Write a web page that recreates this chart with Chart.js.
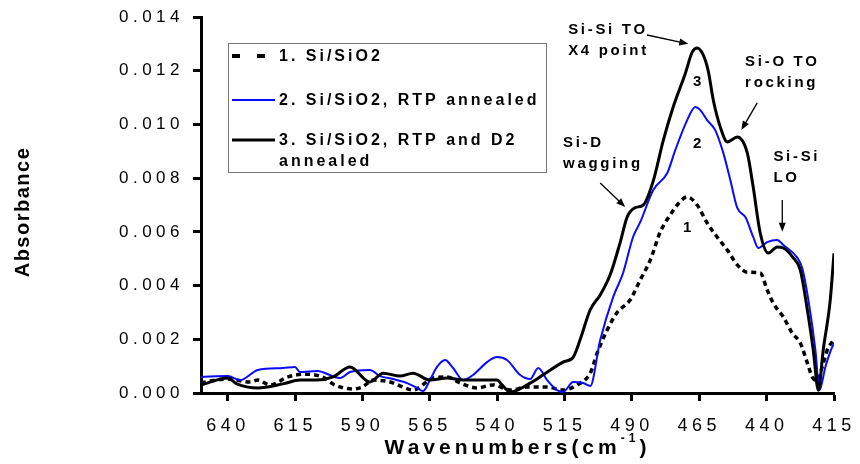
<!DOCTYPE html>
<html>
<head>
<meta charset="utf-8">
<script src="https://cdn.jsdelivr.net/npm/chart.js@4.4.1/dist/chart.umd.min.js"></script>
<style>
  html, body { margin: 0; padding: 0; background: #fff; }
  #wrap { width: 860px; height: 464px; }
</style>
</head>
<body>
<div id="wrap"><canvas id="chart" width="860" height="464"></canvas></div>
<script>
"use strict";

// ===== Data =====
const xTickValues = [640, 615, 590, 565, 540, 515, 490, 465, 440, 415];
const yTickValues = [0, 0.002, 0.004, 0.006, 0.008, 0.010, 0.012, 0.014];

const seriesLabels = [
    ['1. Si/SiO2'],
    ['2. Si/SiO2, RTP annealed'],
    ['3. Si/SiO2, RTP and D2', 'annealed']
];

// 1. Si/SiO2 (dashed)
const s1Wave = [650, 644.8, 640, 631.8, 628.9, 624.4, 617.7, 611.4, 605.1, 600.3, 593.9, 590.2, 586.1,
    579.8, 575.0, 571.3, 563.8, 558.6, 553.8, 547.5, 541.6, 535.2, 528.9, 521.5, 515.6, 510.4, 505.5,
    502.9, 499.2, 495.5, 490.7, 487.0, 483.2, 479.5, 475.8, 473.2, 469.5, 465.8, 462.1, 458.4, 454.6,
    450.9, 447.2, 442.4, 439.8, 437.6, 433.8, 430.5, 427.5, 424.9, 423.1, 421.2, 419.4, 417.5, 415];
const s1Abs = [0.00037, 0.00048, 0.00052, 0.00041, 0.00048, 0.0003, 0.0006, 0.0007, 0.0006, 0.0003, 0.00015,
    0.00022, 0.00048, 0.00041, 0.00022, 0.00011, 0.00056, 0.0006, 0.00037, 0.00019, 0.0003, 0.00011, 0.00022,
    0.00022, 0.00011, 0.0003, 0.00074, 0.00149, 0.00235, 0.0030, 0.00346, 0.0042, 0.00495, 0.0060, 0.00663,
    0.0070, 0.0073, 0.0070, 0.00633, 0.00581, 0.00532, 0.00477, 0.0045, 0.00447, 0.00384, 0.00335, 0.00283,
    0.00223, 0.00186, 0.00112, 0.0006, 0.00045, 0.00097, 0.0016, 0.0020];

// 2. Si/SiO2, RTP annealed (blue)
const s2Wave = [650, 640, 635.5, 628.9, 619.6, 615.1, 613.3, 606.9, 598.4, 594.7, 587.3, 583.5, 578.7,
    573.5, 569.8, 567.6, 565.0, 562.4, 559.4, 556.4, 552.7, 549.0, 543.8, 540.1, 536.4, 531.5, 527.8,
    524.8, 521.5, 517.8, 515.6, 511.8, 508.1, 505.5, 501.8, 497.0, 493.3, 489.6, 486.9, 482.1, 476.9,
    473.9, 469.5, 466.5, 464.7, 462.1, 459.1, 456.1, 453.5, 450.9, 447.9, 445.0, 443.1, 439.8, 436.1,
    433.8, 428.6, 426.8, 424.5, 421.9, 420.4, 418.2, 416.4, 415];
const s2Abs = [0.0006, 0.00063, 0.00048, 0.00086, 0.00093, 0.00097, 0.00078, 0.00082, 0.00056, 0.00078,
    0.00086, 0.00063, 0.00052, 0.00037, 0.00019, 0.00007, 0.00048, 0.00097, 0.00123, 0.00093, 0.00048,
    0.00067, 0.00115, 0.00134, 0.00123, 0.00067, 0.00052, 0.00093, 0.00048, 0.00011, 0.00004, 0.00041,
    0.00037, 0.00026, 0.00197, 0.00357, 0.00447, 0.00581, 0.00637, 0.00756, 0.00819, 0.00905, 0.01016,
    0.01065, 0.01054, 0.01016, 0.00979, 0.00894, 0.00793, 0.00689, 0.00655, 0.00581, 0.0054, 0.00562,
    0.0057, 0.00551, 0.00503, 0.00465, 0.00346, 0.0016, 0.0001, 0.00097, 0.00153, 0.00186];

// 3. Si/SiO2, RTP and D2 annealed (black)
const s3Wave = [650, 640, 636.7, 628.9, 619.6, 613.3, 606.9, 601.0, 594.7, 587.3, 582.4, 576.1, 571.3,
    565.0, 558.6, 552.7, 540.1, 538.2, 535.2, 527.8, 524.1, 515.6, 511.8, 509.2, 505.5, 501.8, 498.1,
    494.4, 491.8, 488.8, 485.8, 482.1, 478.4, 474.7, 470.2, 467.6, 465.8, 463.6, 461.7, 459.8, 457.2,
    454.6, 450.9, 447.2, 445.0, 442.4, 439.4, 436.1, 433.8, 430.1, 427.5, 424.9, 422.7, 420.8, 419.0,
    416.4, 415];
const s3Abs = [0.0003, 0.00056, 0.00034, 0.00019, 0.00034, 0.00048, 0.00048, 0.0006, 0.00097, 0.00041,
    0.00074, 0.00063, 0.00074, 0.00048, 0.00056, 0.00048, 0.00048, 0.0003, 0.00004, 0.00037, 0.0006,
    0.00115, 0.00134, 0.0020, 0.0031, 0.00365, 0.0044, 0.0056, 0.00655, 0.0069, 0.0070, 0.0079, 0.0094,
    0.01065, 0.0119, 0.0127, 0.01285, 0.0126, 0.0120, 0.0109, 0.0099, 0.00935, 0.00953, 0.00894, 0.00767,
    0.00596, 0.00521, 0.00544, 0.0054, 0.00503, 0.00458, 0.0031, 0.0016, 0.0001, 0.0016, 0.00346, 0.0052];

// annotations, in data coordinates (wavenumber, absorbance)
const noteTexts = [
    { lines: ['Si-Si TO', 'X4 point'], at: [513.7, 0.01352] },
    { lines: ['Si-O TO', 'rocking'], at: [448.0, 0.01232] },
    { lines: ['Si-D', 'wagging'], at: [515.6, 0.00931] },
    { lines: ['Si-Si', 'LO'], at: [437.5, 0.00879] }
];
const noteArrows = [
    [[484.4, 0.01333], [469.1, 0.0130]],
    [[443.5, 0.0108], [449.4, 0.00979]],
    [[501.8, 0.00782], [492.5, 0.00693]],
    [[434.2, 0.00719], [434.2, 0.0060]]
];
const curveNumbers = [
    { text: '3', at: [465.8, 0.01158] },
    { text: '2', at: [465.8, 0.00927] },
    { text: '1', at: [469.5, 0.00614] }
];

// ===== Helpers =====
const FAMILY = "'Liberation Sans', Arial, sans-serif";
const toPoints = (xs, ys) => xs.map((x, i) => ({ x, y: ys[i] }));

// ===== Plugins =====
const spacingPlugin = {
    id: 'spacing',
    beforeDraw(chart) { chart.ctx.letterSpacing = '4.5px'; },
    afterDraw(chart) { chart.ctx.letterSpacing = '0px'; }
};

const legendBoxPlugin = {
    id: 'legendBox',
    afterDatasetsDraw(chart) {
        const { ctx, chartArea } = chart;
        const bx = chartArea.left + 27, by = chartArea.top + 26;
        ctx.save();
        ctx.letterSpacing = '3px';
        ctx.fillStyle = '#fff';
        ctx.fillRect(bx, by, 318, 129);
        ctx.strokeStyle = '#777';
        ctx.lineWidth = 1;
        ctx.strokeRect(bx + 0.5, by + 0.5, 318, 129);
        const rows = [by + 13, by + 57, by + 97];
        chart.data.datasets.forEach((ds, i) => {
            const y = rows[i];
            ctx.beginPath();
            ctx.strokeStyle = ds.borderColor;
            if (ds.borderDash && ds.borderDash.length) {
                ctx.lineWidth = 4;
                ctx.setLineDash([8, 17]);
                ctx.moveTo(bx + 4, y);
                ctx.lineTo(bx + 38, y);
            } else {
                ctx.lineWidth = ds.borderWidth;
                ctx.setLineDash([]);
                ctx.moveTo(bx + 4, y);
                ctx.lineTo(bx + 47, y);
            }
            ctx.stroke();
            ctx.setLineDash([]);
            ctx.fillStyle = '#000';
            ctx.font = 'bold 16px ' + FAMILY;
            ctx.textBaseline = 'middle';
            ctx.textAlign = 'left';
            seriesLabels[i].forEach((line, k) => ctx.fillText(line, bx + 51, y + 1 + k * 21));
        });
        ctx.restore();
    }
};

function arrow(ctx, x1, y1, x2, y2) {
    const ang = Math.atan2(y2 - y1, x2 - x1);
    const hl = 9, hw = 3.5;
    ctx.beginPath();
    ctx.moveTo(x1, y1);
    ctx.lineTo(x2 - Math.cos(ang) * hl * 0.8, y2 - Math.sin(ang) * hl * 0.8);
    ctx.stroke();
    ctx.beginPath();
    ctx.moveTo(x2, y2);
    ctx.lineTo(x2 - Math.cos(ang) * hl - Math.sin(ang) * hw, y2 - Math.sin(ang) * hl + Math.cos(ang) * hw);
    ctx.lineTo(x2 - Math.cos(ang) * hl + Math.sin(ang) * hw, y2 - Math.sin(ang) * hl - Math.cos(ang) * hw);
    ctx.closePath();
    ctx.fill();
}

const notesPlugin = {
    id: 'notes',
    afterDatasetsDraw(chart) {
        const { ctx, scales: { x, y } } = chart;
        ctx.save();
        ctx.fillStyle = '#000';
        ctx.strokeStyle = '#000';
        ctx.lineWidth = 1.3;
        ctx.letterSpacing = '2.7px';
        ctx.font = 'bold 15px ' + FAMILY;
        ctx.textBaseline = 'middle';
        ctx.textAlign = 'left';
        noteTexts.forEach((n) => {
            const px = x.getPixelForValue(n.at[0]);
            const py = y.getPixelForValue(n.at[1]);
            n.lines.forEach((line, k) => ctx.fillText(line, px, py + k * 20.5));
        });
        noteArrows.forEach(([a, b]) => {
            arrow(ctx, x.getPixelForValue(a[0]), y.getPixelForValue(a[1]),
                x.getPixelForValue(b[0]), y.getPixelForValue(b[1]));
        });
        ctx.textAlign = 'center';
        ctx.letterSpacing = '0px';
        curveNumbers.forEach((n) => {
            ctx.fillText(n.text, x.getPixelForValue(n.at[0]), y.getPixelForValue(n.at[1]));
        });
        ctx.restore();
    }
};

const titlesPlugin = {
    id: 'titles',
    afterDraw(chart) {
        const { ctx, chartArea } = chart;
        ctx.save();
        ctx.fillStyle = '#000';
        ctx.textBaseline = 'middle';
        ctx.textAlign = 'left';

        // x axis title with superscript
        const ls = 4;
        const parts = [
            { t: 'Wavenumbers(cm', font: 'bold 21px ' + FAMILY, dy: 0 },
            { t: '-1', font: 'bold 12px ' + FAMILY, dy: -9 },
            { t: ')', font: 'bold 21px ' + FAMILY, dy: 0 }
        ];
        ctx.letterSpacing = '0px';
        const widths = parts.map((p) => {
            ctx.font = p.font;
            return ctx.measureText(p.t).width + ls * p.t.length;
        });
        const total = widths.reduce((a, b) => a + b, 0);
        let cx = (chartArea.left + chartArea.right) / 2 - total / 2;
        ctx.letterSpacing = ls + 'px';
        parts.forEach((p, i) => {
            ctx.font = p.font;
            ctx.fillText(p.t, cx, 448 + p.dy);
            cx += widths[i];
        });

        // y axis title
        ctx.letterSpacing = '1.5px';
        ctx.font = 'bold 20px ' + FAMILY;
        ctx.textAlign = 'center';
        ctx.translate(23, 212);
        ctx.rotate(-Math.PI / 2);
        ctx.fillText('Absorbance', 0, 0);
        ctx.restore();
    }
};

// ===== Chart =====
const axisGrid = { display: true, drawOnChartArea: false, drawTicks: true, tickLength: 8, tickWidth: 3, tickColor: '#000' };
const axisBorder = { display: true, color: '#000', width: 3 };

new Chart(document.getElementById('chart'), {
    type: 'line',
    data: {
        datasets: [
            {
                label: seriesLabels[0].join(' '),
                data: toPoints(s1Wave, s1Abs),
                borderColor: '#000',
                borderWidth: 3.5,
                borderDash: [5, 4],
                order: 2
            },
            {
                label: seriesLabels[1].join(' '),
                data: toPoints(s2Wave, s2Abs),
                borderColor: '#0a0aff',
                borderWidth: 2,
                order: 1
            },
            {
                label: seriesLabels[2].join(' '),
                data: toPoints(s3Wave, s3Abs),
                borderColor: '#000',
                borderWidth: 3,
                order: 0
            }
        ]
    },
    options: {
        responsive: false,
        animation: false,
        events: [],
        layout: { padding: { left: 0, top: 17, right: 26, bottom: 0 } },
        elements: {
            point: { radius: 0 },
            line: { cubicInterpolationMode: 'monotone', fill: false }
        },
        plugins: {
            legend: { display: false },
            tooltip: { enabled: false }
        },
        scales: {
            x: {
                type: 'linear',
                reverse: true,
                min: 415,
                max: 650,
                afterBuildTicks: (scale) => { scale.ticks = xTickValues.map((v) => ({ value: v })); },
                afterFit: (scale) => {
                    scale.height = 71;
                    scale.paddingLeft = 0;
                    scale.paddingRight = 0;
                },
                grid: axisGrid,
                border: axisBorder,
                ticks: {
                    color: '#000',
                    padding: 14,
                    maxRotation: 0,
                    autoSkip: false,
                    font: { family: FAMILY, size: 18 }
                }
            },
            y: {
                min: 0,
                max: 0.014,
                afterBuildTicks: (scale) => { scale.ticks = yTickValues.map((v) => ({ value: v })); },
                afterFit: (scale) => {
                    scale.width = 201;
                    scale.paddingTop = 0;
                    scale.paddingBottom = 0;
                },
                grid: axisGrid,
                border: axisBorder,
                ticks: {
                    color: '#000',
                    padding: 9,
                    font: { family: FAMILY, size: 17 },
                    callback: (v) => Number(v).toFixed(3)
                }
            }
        }
    },
    plugins: [spacingPlugin, legendBoxPlugin, notesPlugin, titlesPlugin]
});
</script>
</body>
</html>
